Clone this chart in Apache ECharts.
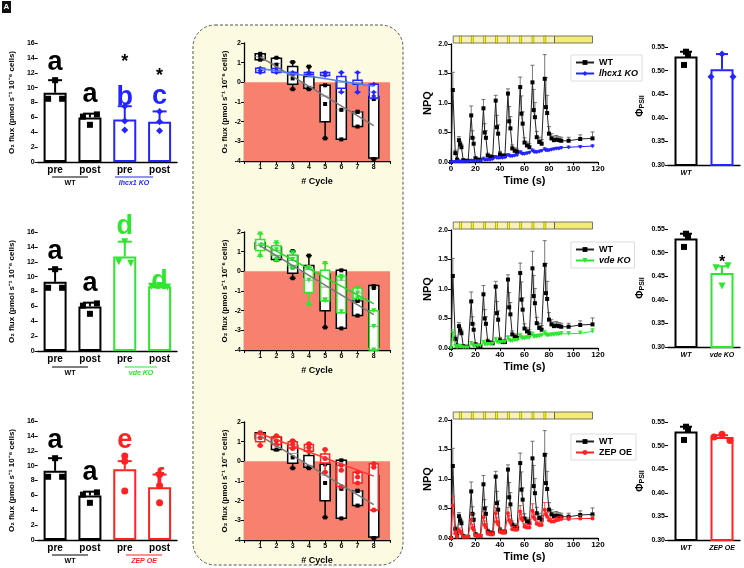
<!DOCTYPE html>
<html lang="en">
<head>
<meta charset="UTF-8" />
<title>O2 flux, NPQ and PhiPSII</title>
<script src="https://cdn.jsdelivr.net/npm/echarts@6/dist/echarts.min.js"></script>
<style>
  html, body { margin: 0; padding: 0; background: #fff; }
  .wrap { position: relative; width: 744px; height: 568px; }
  #chart { position: absolute; left: 0; top: 0; width: 744px; height: 568px; }
  #chartO2 { position: absolute; left: 0; top: 0; width: 190px; height: 568px; }
</style>
</head>
<body>
<div class="wrap">
  <div id="chart"></div>
  <div id="chartO2"></div>
</div>
<script>
  // ---------- data ----------
  var mutants = ["lhcx1 KO", "vde KO", "ZEP OE"];

  // O2 flux bars (pre / post)
  var o2Cats = ["pre", "post", "pre", "post"];
  var wtO2Mean = [9.3, 6.0];
  var wtO2Cap = [11.0, 6.5];
  var wtO2Dots = [[11.0, 8.5, 8.5], [6.1, 6.4, 5.0]];
  var mutO2Mean = [[5.7, 5.4], [12.7, 8.7], [9.5, 7.1]];
  var mutO2Cap = [[7.5, 6.8], [14.7, 8.9], [10.6, 8.8]];
  var mutO2Dots = [
    [[7.5, 5.5, 4.3], [6.8, 5.4, 4.2]],
    [[14.7, 12.0, 11.8], [8.7, 8.8, 8.6]],
    [[11.3, 10.6, 6.6], [8.8, 7.3, 5.0]]
  ];
  // [text, category index, y]
  var o2Letters = [
    [["a", 0, 13.4], ["a", 1, 9.1], ["*", 2, 13.4], ["b", 2, 8.6], ["*", 3, 11.6], ["c", 3, 8.8]],
    [["a", 0, 13.4], ["a", 1, 9.1], ["d", 2, 16.7], ["d", 3, 9.3]],
    [["a", 0, 13.4], ["a", 1, 9.1], ["e", 2, 13.4], ["f", 3, 8.1]]
  ];

  // O2 flux per cycle: [min, Q1, median, Q3, max] for cycles 1..8
  var cycles = [1, 2, 3, 4, 5, 6, 7, 8];
  var wtBox = [
    [1.15, 1.15, 1.3, 1.45, 1.45], [0.55, 0.6, 0.95, 1.23, 1.25], [-0.35, -0.1, 0.4, 0.8, 1.03],
    [-0.35, -0.3, -0.2, 0.3, 0.8], [-2.85, -2.0, -0.7, -0.15, -0.15], [-2.9, -2.9, -1.4, 0.05, 0.05],
    [-2.25, -2.25, -1.5, -1.5, -1.5], [-3.9, -3.85, -0.85, -0.72, -0.72]
  ];
  var wtBoxDots = [[1.45, 1.35, 1.15], [1.25, 0.9, 0.6], [1.03, 0.2, -0.35], [0.8, -0.3, -0.35],
    [-0.15, -1.1, -2.85], [0.05, -1.4, -2.9], [-1.5, -1.5, -2.25], [-0.75, -0.85, -3.9]];
  var mutBox = [
    [[0.5, 0.5, 0.6, 0.72, 0.72], [0.5, 0.5, 0.6, 0.7, 0.7], [0.4, 0.4, 0.45, 0.5, 0.5], [0.4, 0.4, 0.45, 0.5, 0.5],
     [0.35, 0.35, 0.45, 0.5, 0.5], [-0.5, -0.3, 0.0, 0.3, 0.5], [-0.5, -0.1, 0.0, 0.1, 0.5], [-0.8, -0.8, -0.5, -0.1, -0.1]],
    [[0.77, 1.06, 1.32, 1.62, 1.9], [0.55, 0.8, 1.05, 1.3, 1.45], [0.17, 0.3, 0.55, 0.8, 0.95], [-1.7, -1.08, -0.45, 0.1, 0.2],
     [-1.5, -1.5, -0.8, 0.05, 0.4], [-2.1, -2.1, -0.45, -0.25, -0.25], [-1.4, -1.37, -1.1, -0.85, -0.85], [-4.0, -4.0, -2.8, -2.0, -2.0]],
    [[0.8, 1.0, 1.2, 1.4, 1.45], [0.85, 0.85, 1.05, 1.22, 1.3], [0.65, 0.68, 0.85, 1.0, 1.05], [0.5, 0.51, 0.7, 0.86, 0.9],
     [-0.55, -0.08, 0.15, 0.37, 0.6], [-1.3, -1.28, -0.45, -0.2, -0.2], [-1.1, -1.1, -0.8, -0.55, -0.55], [-2.5, -2.47, -0.3, -0.12, -0.12]]
  ];
  var mutBoxDots = [
    [[0.72, 0.6, 0.5], [0.7, 0.6, 0.5], [0.5, 0.45, 0.4], [0.5, 0.45, 0.4], [0.5, 0.45, 0.35], [0.5, 0.5, -0.5], [0.5, -0.5, -0.5], [-0.1, -0.5, -0.7]],
    [[1.9, 1.3, 0.77], [1.45, 1.1, 0.55], [0.95, 0.6, 0.17], [0.2, -0.45, -1.7], [0.4, -1.5, -1.45], [-0.4, -2.05, -0.25], [-0.85, -1.35, -1.1], [-2.0, -2.8, -4.0]],
    [[1.45, 1.2, 0.8], [1.3, 1.05, 0.85], [1.05, 0.85, 0.65], [0.9, 0.7, 0.5], [0.6, 0.15, -0.55], [-0.2, -0.45, -1.28], [-0.55, -0.8, -1.1], [-0.12, -0.3, -2.47]]
  ];
  var wtFit = [[1, 1.3], [8, -2.2]];
  var mutFit = [[[1, 0.7], [8, -0.2]], [[1, 1.47], [8, -1.65]], [[1, 1.4], [8, -0.75]]];

  // NPQ time courses
  var npqT = [0, 1.5, 3.5, 5,
    6.5, 7.5, 8.5, 10, 12, 14,
    16.5, 17.5, 18.5, 20, 22, 24,
    26.5, 27.5, 28.5, 30, 32, 34,
    36.5, 37.5, 38.5, 40, 42, 44,
    46.5, 47.5, 48.5, 50, 52, 54,
    56.5, 57.5, 58.5, 60, 62, 64,
    66.5, 67.5, 68.5, 70, 72, 74,
    76.5, 77.5, 78.5, 80, 82, 84, 86, 88, 90, 96, 105.5, 115.5];
  var npqWT = [0, 1.22, 0.15, 0.04,
    0.37, 0.30, 0.25, 0.03, 0.02, 0.02,
    0.79, 0.41, 0.31, 0.06, 0.04, 0.03,
    0.91, 0.50, 0.41, 0.11, 0.09, 0.08,
    1.04, 0.59, 0.48, 0.13, 0.10, 0.10,
    1.16, 0.69, 0.57, 0.23, 0.19, 0.17,
    1.27, 0.82, 0.65, 0.33, 0.28, 0.25,
    1.35, 0.88, 0.76, 0.42, 0.34, 0.31,
    1.41, 0.93, 0.83, 0.48, 0.40, 0.37, 0.38, 0.37, 0.36, 0.36, 0.39, 0.40];
  var npqWTErr = [0, 0.30, 0.05, 0.02,
    0.06, 0.05, 0.05, 0.02, 0.01, 0.01,
    0.16, 0.12, 0.10, 0.03, 0.02, 0.02,
    0.15, 0.15, 0.12, 0.04, 0.03, 0.03,
    0.09, 0.20, 0.15, 0.05, 0.04, 0.04,
    0.08, 0.25, 0.20, 0.06, 0.05, 0.05,
    0.17, 0.30, 0.20, 0.08, 0.06, 0.06,
    0.29, 0.35, 0.25, 0.10, 0.08, 0.07,
    0.41, 0.50, 0.30, 0.12, 0.08, 0.07, 0.07, 0.06, 0.06, 0.06, 0.07, 0.11];
  var npqMut = [
    [0, 0.01, 0.01, 0.01,
     0.02, 0.01, 0.01, 0.01, 0.01, 0.01,
     0.03, 0.02, 0.02, 0.02, 0.02, 0.02,
     0.06, 0.04, 0.04, 0.04, 0.04, 0.05,
     0.09, 0.07, 0.07, 0.07, 0.07, 0.08,
     0.12, 0.11, 0.10, 0.10, 0.11, 0.12,
     0.17, 0.15, 0.14, 0.14, 0.15, 0.16,
     0.20, 0.18, 0.17, 0.17, 0.18, 0.19,
     0.22, 0.20, 0.20, 0.20, 0.21, 0.22, 0.23, 0.23, 0.24, 0.25, 0.26, 0.27],
    [0, 0.25, 0.03, 0.01,
     0.04, 0.02, 0.02, 0.01, 0.01, 0.01,
     0.08, 0.05, 0.04, 0.04, 0.04, 0.04,
     0.10, 0.06, 0.06, 0.06, 0.06, 0.07,
     0.14, 0.10, 0.09, 0.09, 0.10, 0.10,
     0.17, 0.13, 0.12, 0.12, 0.13, 0.13,
     0.21, 0.17, 0.16, 0.16, 0.17, 0.17,
     0.23, 0.19, 0.19, 0.19, 0.20, 0.21,
     0.25, 0.22, 0.21, 0.21, 0.22, 0.22, 0.23, 0.23, 0.24, 0.24, 0.25, 0.28],
    [0, 0.55, 0.08, 0.02,
     0.13, 0.10, 0.08, 0.02, 0.02, 0.02,
     0.31, 0.17, 0.14, 0.04, 0.03, 0.03,
     0.35, 0.22, 0.18, 0.07, 0.06, 0.06,
     0.42, 0.27, 0.23, 0.10, 0.09, 0.09,
     0.42, 0.30, 0.26, 0.15, 0.14, 0.14,
     0.45, 0.33, 0.30, 0.19, 0.18, 0.18,
     0.46, 0.35, 0.32, 0.24, 0.22, 0.22,
     0.48, 0.40, 0.36, 0.30, 0.28, 0.28, 0.30, 0.31, 0.32, 0.32, 0.33, 0.33]
  ];
  var npqMutErr = [
    [0, 0.01, 0.01, 0.01,
     0.01, 0.01, 0.01, 0.01, 0.01, 0.01,
     0.01, 0.01, 0.01, 0.01, 0.01, 0.01,
     0.02, 0.01, 0.01, 0.01, 0.01, 0.01,
     0.02, 0.02, 0.01, 0.01, 0.01, 0.01,
     0.02, 0.02, 0.02, 0.02, 0.02, 0.02,
     0.02, 0.02, 0.02, 0.02, 0.02, 0.02,
     0.02, 0.02, 0.02, 0.02, 0.02, 0.02,
     0.02, 0.02, 0.02, 0.02, 0.02, 0.02, 0.02, 0.02, 0.02, 0.02, 0.02, 0.02],
    [0, 0.06, 0.02, 0.01,
     0.02, 0.02, 0.02, 0.01, 0.01, 0.01,
     0.03, 0.02, 0.02, 0.02, 0.02, 0.02,
     0.03, 0.03, 0.03, 0.03, 0.03, 0.03,
     0.04, 0.03, 0.03, 0.03, 0.03, 0.03,
     0.04, 0.03, 0.03, 0.03, 0.03, 0.03,
     0.04, 0.04, 0.04, 0.04, 0.04, 0.04,
     0.04, 0.04, 0.04, 0.04, 0.04, 0.04,
     0.05, 0.04, 0.04, 0.04, 0.04, 0.04, 0.04, 0.04, 0.04, 0.04, 0.04, 0.05],
    [0, 0.16, 0.04, 0.02,
     0.04, 0.03, 0.03, 0.02, 0.02, 0.02,
     0.10, 0.06, 0.05, 0.03, 0.03, 0.03,
     0.10, 0.07, 0.06, 0.04, 0.04, 0.04,
     0.10, 0.08, 0.06, 0.04, 0.04, 0.04,
     0.10, 0.08, 0.06, 0.05, 0.05, 0.05,
     0.10, 0.08, 0.06, 0.05, 0.05, 0.05,
     0.12, 0.08, 0.07, 0.05, 0.05, 0.05,
     0.12, 0.08, 0.07, 0.05, 0.05, 0.05, 0.05, 0.05, 0.05, 0.05, 0.05, 0.05]
  ];
  // light protocol bar: [start s, end s, kind] kind 0 = low light, 1 = pulse, 2 = end light
  var lightSegs = [[1.8, 84.5, 0],
    [7, 8.6, 1], [16.6, 18.2, 1], [26.6, 28.2, 1], [36.3, 37.9, 1],
    [46.1, 47.7, 1], [56.1, 57.7, 1], [66.1, 67.7, 1], [75.8, 77.4, 1],
    [84.5, 115.5, 2]];

  // PhiPSII
  var wtPhiMean = 0.530, wtPhiCap = 0.540, wtPhiDots = [0.540, 0.535, 0.512];
  var mutPhiMean = [0.503, 0.457, 0.518];
  var mutPhiCap = [0.535, 0.471, 0.522];
  var mutPhiDots = [[0.535, 0.487, 0.487], [0.472, 0.468, 0.429], [0.524, 0.518, 0.511]];
  var phiStar = [null, 0.478, null];

  // ---------- styles ----------
  var FONT = 'Arial, "Liberation Sans", Helvetica, sans-serif';
  var mutColors = ["#2424ff", "#2ee62e", "#ff2222"];
  var fitColors = ["#4f7cff", "#2fd42f", "#ff3333"];
  var mutSymbols = ["diamond", "triangle", "circle"];
  var mutRotate = [0, 180, 0];
  var o2Top = [43, 232, 421], boxTop = [43, 232, 422], npqTop = [44, 230, 420], phiTop = [47, 229, 422];
  var lightTop = [36, 222, 412];
  var legendTop = [55, 242, 434];
  var groupY = [177, 367, 555];
  var mutLine = [[115, 153], [125, 157], [126, 162]];
  var wtO2Jit = [[0, -7, 7], [-7, 7, 0]];
  var mutO2Jit = [[[0, 0, 0], [0, 0, 0]], [[0, -6, 6], [-8, 0, 8]], [[0, 0, 0], [0, 0, 0]]];
  var wtPhiJit = [0, 2, -2];
  var mutPhiJit = [[0, -11, 11], [6, -6, 0], [0, -8, 8]];
  var o2Name = "O\u2082 flux (pmol s\u207B\u00B9 10\u207B\u2076 cells)";

  function merge(a, b) {
    var o = {}, k;
    for (k in a) o[k] = a[k];
    for (k in b) {
      if (b[k] && typeof b[k] === "object" && !Array.isArray(b[k]) && a[k] && typeof a[k] === "object") o[k] = merge(a[k], b[k]);
      else o[k] = b[k];
    }
    return o;
  }
  function ax(extra) {
    return merge({
      axisLine: { onZero: false, lineStyle: { color: "#000", width: 1.3 } },
      axisTick: { show: true, length: 3, lineStyle: { color: "#000", width: 1 } },
      axisLabel: { color: "#000", fontFamily: FONT, fontWeight: "bold", fontSize: 7, margin: 3 },
      splitLine: { show: false },
      nameTextStyle: { color: "#000", fontFamily: FONT, fontWeight: "bold" }
    }, extra);
  }
  function errRenderer(color, half, lw) {
    return function (params, api) {
      var x = api.value(0);
      var a = api.coord([x, api.value(1)]), b = api.coord([x, api.value(2)]);
      var st = { stroke: color, lineWidth: lw };
      return { type: "group", children: [
        { type: "line", shape: { x1: a[0], y1: a[1], x2: b[0], y2: b[1] }, style: st },
        { type: "line", shape: { x1: b[0] - half, y1: b[1], x2: b[0] + half, y2: b[1] }, style: st }
      ] };
    };
  }
  function boxRenderer(color, halfW, lw) {
    return function (params, api) {
      var x = api.value(0);
      var pMin = api.coord([x, api.value(1)]), pQ1 = api.coord([x, api.value(2)]);
      var pMed = api.coord([x, api.value(3)]), pQ3 = api.coord([x, api.value(4)]);
      var pMax = api.coord([x, api.value(5)]);
      var cx = pMin[0], st = { stroke: color, lineWidth: lw };
      return { type: "group", children: [
        { type: "line", shape: { x1: cx, y1: pMax[1], x2: cx, y2: pQ3[1] }, style: st },
        { type: "line", shape: { x1: cx, y1: pQ1[1], x2: cx, y2: pMin[1] }, style: st },
        { type: "line", shape: { x1: cx - 3, y1: pMax[1], x2: cx + 3, y2: pMax[1] }, style: st },
        { type: "line", shape: { x1: cx - 3, y1: pMin[1], x2: cx + 3, y2: pMin[1] }, style: st },
        { type: "rect", shape: { x: cx - halfW, y: pQ3[1], width: 2 * halfW, height: Math.max(pQ1[1] - pQ3[1], 1) },
          style: { fill: "#fff", stroke: color, lineWidth: lw } },
        { type: "line", shape: { x1: cx - halfW, y1: pMed[1], x2: cx + halfW, y2: pMed[1] }, style: { stroke: "#999", lineWidth: 1 } }
      ] };
    };
  }
  function lightRenderer(params, api) {
    var a = api.coord([api.value(0), 1]), b = api.coord([api.value(1), 0]);
    var k = api.value(2);
    var fills = ["#f8f2b8", "#ffff00", "#f3ec74"];
    return { type: "rect", shape: { x: a[0], y: a[1], width: b[0] - a[0], height: b[1] - a[1] },
      style: { fill: fills[k], stroke: k === 1 ? "#6a6420" : "#555", lineWidth: k === 1 ? 0.5 : 0.8 } };
  }
  function dots(groups, jit, start) {
    var out = [];
    groups.forEach(function (vals, gi) {
      vals.forEach(function (v, j) { out.push({ value: [start + gi, v], symbolOffset: [jit[gi][j], 0] }); });
    });
    return out;
  }
  function zip(xs, ys) { return xs.map(function (x, i) { return [x, ys[i]]; }); }
  function zipErr(xs, ys, es) { return xs.map(function (x, i) { return [x, ys[i], ys[i] + es[i]]; }); }

  // ---------- O2 flux bar panels (own instance, left column) ----------
  var o2Chart = echarts.init(document.getElementById("chartO2"));
  var oGrids = [], oX = [], oY = [], oSeries = [];
  for (var r = 0; r < 3; r++) {
    var col = mutColors[r];
    oGrids.push({ left: 33, top: o2Top[r], width: 144, height: 119 });
    oX.push(ax({ gridIndex: r, type: "category", data: o2Cats, axisTick: { show: false },
      axisLabel: { fontSize: 10, margin: 3 } }));
    oY.push(ax({ gridIndex: r, type: "value", min: 0, max: 16, interval: 2, name: o2Name,
      nameLocation: "middle", nameGap: 17, nameTextStyle: { fontSize: 8 } }));
    var means = [wtO2Mean[0], wtO2Mean[1], mutO2Mean[r][0], mutO2Mean[r][1]];
    oSeries.push({ type: "bar", name: "o2bar" + r, xAxisIndex: r, yAxisIndex: r, barWidth: 23, silent: true,
      data: means.map(function (v, i) {
        return { value: v, itemStyle: { color: "#fff", borderColor: i < 2 ? "#000" : col, borderWidth: 2 } };
      }) });
    oSeries.push({ type: "custom", name: "o2errwt" + r, xAxisIndex: r, yAxisIndex: r, z: 3, silent: true,
      renderItem: errRenderer("#000", 7, 2),
      data: [[0, wtO2Mean[0], wtO2Cap[0]], [1, wtO2Mean[1], wtO2Cap[1]]] });
    oSeries.push({ type: "custom", name: "o2errmut" + r, xAxisIndex: r, yAxisIndex: r, z: 3, silent: true,
      renderItem: errRenderer(col, 7, 2),
      data: [[2, mutO2Mean[r][0], mutO2Cap[r][0]], [3, mutO2Mean[r][1], mutO2Cap[r][1]]] });
    oSeries.push({ type: "scatter", name: "o2dotwt" + r, xAxisIndex: r, yAxisIndex: r, z: 4, silent: true,
      symbol: "rect", symbolSize: 6, itemStyle: { color: "#000", opacity: 1 }, data: dots(wtO2Dots, wtO2Jit, 0) });
    oSeries.push({ type: "scatter", name: "o2dotmut" + r, xAxisIndex: r, yAxisIndex: r, z: 4, silent: true,
      symbol: mutSymbols[r], symbolRotate: mutRotate[r], symbolSize: 7, itemStyle: { color: col, opacity: 1 },
      data: dots(mutO2Dots[r], mutO2Jit[r], 2) });
    oSeries.push({ type: "scatter", name: "o2letters" + r, xAxisIndex: r, yAxisIndex: r, z: 6, silent: true,
      clip: false, symbolSize: 1, itemStyle: { color: "rgba(0,0,0,0)", opacity: 1 },
      data: o2Letters[r].map(function (L) {
        var star = L[0] === "*";
        return { value: [L[1], L[2]], label: { show: true, position: "inside", formatter: L[0], opacity: 1,
          textBorderWidth: 0, color: (star || L[1] < 2) ? "#000" : col, fontSize: star ? 18 : 27,
          fontWeight: "bold", fontFamily: FONT } };
      }) });
  }
  o2Chart.setOption({ animation: false, textStyle: { fontFamily: FONT },
    grid: oGrids, xAxis: oX, yAxis: oY, series: oSeries });

  // ---------- cycle, NPQ and PhiPSII panels ----------
  var chart = echarts.init(document.getElementById("chart"));
  var grids = [], xAxes = [], yAxes = [], series = [], legends = [], graphics = [];

  graphics.push({ type: "rect", z: -10, shape: { x: 193, y: 25, width: 210, height: 540, r: 22 },
    style: { fill: "#fcfae0", stroke: "#555", lineWidth: 1, lineDash: [3, 2] } });
  graphics.push({ type: "rect", shape: { x: 2, y: 1, width: 9, height: 12 }, style: { fill: "#111" } });
  graphics.push({ type: "text", style: { text: "A", x: 6.5, y: 7, fill: "#fff", font: "bold 8px " + FONT,
    textAlign: "center", textVerticalAlign: "middle" } });

  for (var r2 = 0; r2 < 3; r2++) {
    var c = mutColors[r2], g;

    // group labels under the O2 bars
    graphics.push({ type: "line", shape: { x1: 52, y1: groupY[r2], x2: 88, y2: groupY[r2] }, style: { stroke: "#000", lineWidth: 1 } });
    graphics.push({ type: "text", style: { text: "WT", x: 70, y: groupY[r2] + 6, fill: "#000", font: "bold 7px " + FONT,
      textAlign: "center", textVerticalAlign: "middle" } });
    graphics.push({ type: "line", shape: { x1: mutLine[r2][0], y1: groupY[r2], x2: mutLine[r2][1], y2: groupY[r2] }, style: { stroke: c, lineWidth: 1 } });
    graphics.push({ type: "text", style: { text: mutants[r2], x: (mutLine[r2][0] + mutLine[r2][1]) / 2, y: groupY[r2] + 6, fill: c,
      font: "italic bold 7px " + FONT, textAlign: "center", textVerticalAlign: "middle" } });

    // --- O2 flux per cycle ---
    g = r2 * 3;
    grids.push({ left: 244, top: boxTop[r2], width: 146, height: 118 });
    xAxes.push(ax({ gridIndex: g, type: "value", min: 0, max: 9, interval: 1, name: "# Cycle",
      nameLocation: "middle", nameGap: 16, nameTextStyle: { fontSize: 9 },
      axisLabel: { formatter: function (v) { return (v >= 1 && v <= 8) ? v : ""; } } }));
    yAxes.push(ax({ gridIndex: g, type: "value", min: -4, max: 2, interval: 1, name: o2Name,
      nameLocation: "middle", nameGap: 15, nameTextStyle: { fontSize: 8 } }));
    series.push({ type: "custom", name: "boxwt" + r2, xAxisIndex: g, yAxisIndex: g, z: 2, silent: true,
      renderItem: boxRenderer("#000", 5, 1.5), encode: { x: 0, y: [1, 2, 3, 4, 5] },
      data: wtBox.map(function (b, i) { return [cycles[i]].concat(b); }) });
    series.push({ type: "scatter", name: "boxdotwt" + r2, xAxisIndex: g, yAxisIndex: g, z: 3, silent: true,
      symbol: "rect", symbolSize: 4, itemStyle: { color: "#000", opacity: 1 },
      data: [].concat.apply([], wtBoxDots.map(function (vs, i) { return vs.map(function (v) { return [cycles[i], v]; }); })) });
    series.push({ type: "custom", name: "boxmut" + r2, xAxisIndex: g, yAxisIndex: g, z: 4, silent: true,
      renderItem: boxRenderer(c, 4.5, 1.5), encode: { x: 0, y: [1, 2, 3, 4, 5] },
      data: mutBox[r2].map(function (b, i) { return [cycles[i]].concat(b); }) });
    series.push({ type: "scatter", name: "boxdotmut" + r2, xAxisIndex: g, yAxisIndex: g, z: 5, silent: true,
      symbol: mutSymbols[r2], symbolRotate: mutRotate[r2], symbolSize: 5, itemStyle: { color: c, opacity: 1 },
      data: [].concat.apply([], mutBoxDots[r2].map(function (vs, i) { return vs.map(function (v) { return [cycles[i], v]; }); })) });
    series.push({ type: "line", name: "fitwt" + r2, xAxisIndex: g, yAxisIndex: g, z: 6, silent: true,
      data: wtFit, showSymbol: false, lineStyle: { color: "#777", width: 1.5 },
      markArea: { silent: true, itemStyle: { color: "#f8806f" }, label: { show: false },
        data: [[{ coord: [0, 0] }, { coord: [9, -4] }]] } });
    series.push({ type: "line", name: "fitmut" + r2, xAxisIndex: g, yAxisIndex: g, z: 7, silent: true,
      data: mutFit[r2], showSymbol: false, lineStyle: { color: fitColors[r2], width: 1.5 } });

    // --- NPQ ---
    g = r2 * 3 + 1;
    grids.push({ left: 451, top: npqTop[r2], width: 147, height: 118 });
    xAxes.push(ax({ gridIndex: g, type: "value", min: 0, max: 120, interval: 20, name: "Time (s)",
      nameLocation: "middle", nameGap: 13, nameTextStyle: { fontSize: 11 }, axisLabel: { fontSize: 8 } }));
    yAxes.push(ax({ gridIndex: g, type: "value", min: 0, max: 2, interval: 0.5, name: "NPQ",
      nameLocation: "middle", nameGap: 18, nameTextStyle: { fontSize: 11 },
      axisLabel: { formatter: function (v) { return v.toFixed(1); } } }));
    series.push({ type: "custom", name: "npqerrwt" + r2, xAxisIndex: g, yAxisIndex: g, z: 2, silent: true,
      renderItem: errRenderer("#555", 2, 0.8), data: zipErr(npqT, npqWT, npqWTErr) });
    series.push({ type: "line", name: "WT", xAxisIndex: g, yAxisIndex: g, z: 3, silent: true,
      data: zip(npqT, npqWT), symbol: "rect", symbolSize: 4, showSymbol: true,
      lineStyle: { color: "#222", width: 1 }, itemStyle: { color: "#000" } });
    series.push({ type: "custom", name: "npqerrmut" + r2, xAxisIndex: g, yAxisIndex: g, z: 4, silent: true,
      renderItem: errRenderer(c, 2, 0.8), data: zipErr(npqT, npqMut[r2], npqMutErr[r2]) });
    series.push({ type: "line", name: mutants[r2], xAxisIndex: g, yAxisIndex: g, z: 5, silent: true,
      data: zip(npqT, npqMut[r2]), symbol: mutSymbols[r2], symbolRotate: mutRotate[r2], symbolSize: 4, showSymbol: true,
      lineStyle: { color: c, width: 1 }, itemStyle: { color: c } });
    legends.push({ left: 571, top: legendTop[r2], orient: "vertical", itemWidth: 18, itemHeight: 6, itemGap: 2,
      padding: [3, 4], borderColor: "#ddd", borderWidth: 1, selectedMode: false,
      textStyle: { color: "#000", fontFamily: FONT, fontWeight: "bold", fontSize: 9 },
      data: ["WT", { name: mutants[r2], textStyle: { fontStyle: r2 < 2 ? "italic" : "normal" } }] });

    // --- PhiPSII ---
    g = r2 * 3 + 2;
    grids.push({ left: 668, top: phiTop[r2], width: 72, height: 118 });
    xAxes.push(ax({ gridIndex: g, type: "category", data: ["WT", mutants[r2]], axisTick: { show: false },
      axisLabel: { fontSize: 7, fontStyle: "italic", margin: 5 } }));
    yAxes.push(ax({ gridIndex: g, type: "value", min: 0.3, max: 0.55, interval: 0.05, name: "\u03A6{s|PSII}",
      nameLocation: "middle", nameGap: 22, nameTextStyle: { fontSize: 10, rich: { s: { fontSize: 7, fontWeight: "bold", padding: [4, 0, 0, 0] } } },
      axisLabel: { formatter: function (v) { return v.toFixed(2); } } }));
    series.push({ type: "bar", name: "phibar" + r2, xAxisIndex: g, yAxisIndex: g, barWidth: 23, silent: true,
      data: [wtPhiMean, mutPhiMean[r2]].map(function (v, i) {
        return { value: v, itemStyle: { color: "#fff", borderColor: i === 0 ? "#000" : c, borderWidth: 2 } };
      }) });
    series.push({ type: "custom", name: "phierrwt" + r2, xAxisIndex: g, yAxisIndex: g, z: 3, silent: true,
      renderItem: errRenderer("#000", 6, 2), data: [[0, wtPhiMean, wtPhiCap]] });
    series.push({ type: "custom", name: "phierrmut" + r2, xAxisIndex: g, yAxisIndex: g, z: 3, silent: true,
      renderItem: errRenderer(c, 6, 2), data: [[1, mutPhiMean[r2], mutPhiCap[r2]]] });
    series.push({ type: "scatter", name: "phidotwt" + r2, xAxisIndex: g, yAxisIndex: g, z: 4, silent: true,
      symbol: "rect", symbolSize: 6, itemStyle: { color: "#000", opacity: 1 }, data: dots([wtPhiDots], [wtPhiJit], 0) });
    series.push({ type: "scatter", name: "phidotmut" + r2, xAxisIndex: g, yAxisIndex: g, z: 4, silent: true,
      symbol: mutSymbols[r2], symbolRotate: mutRotate[r2], symbolSize: 7, itemStyle: { color: c, opacity: 1 },
      data: dots([mutPhiDots[r2]], [mutPhiJit[r2]], 1) });
    if (phiStar[r2] !== null) {
      series.push({ type: "scatter", name: "phistar" + r2, xAxisIndex: g, yAxisIndex: g, z: 6, silent: true,
        clip: false, symbolSize: 1, itemStyle: { color: "rgba(0,0,0,0)", opacity: 1 },
        data: [{ value: [1, phiStar[r2]], label: { show: true, position: "inside", formatter: "*", color: "#000",
          opacity: 1, textBorderWidth: 0, fontSize: 16, fontWeight: "bold", fontFamily: FONT } }] });
    }
  }

  // light protocol bars above the NPQ panels
  for (var k = 0; k < 3; k++) {
    var gl = 9 + k;
    grids.push({ left: 451, top: lightTop[k], width: 147, height: 7 });
    xAxes.push({ gridIndex: gl, type: "value", min: 0, max: 120, show: false });
    yAxes.push({ gridIndex: gl, type: "value", min: 0, max: 1, show: false });
    series.push({ type: "custom", name: "light" + k, xAxisIndex: gl, yAxisIndex: gl, silent: true,
      renderItem: lightRenderer, data: lightSegs });
  }

  chart.setOption({
    animation: false,
    textStyle: { fontFamily: FONT },
    grid: grids,
    xAxis: xAxes,
    yAxis: yAxes,
    legend: legends,
    graphic: { elements: graphics },
    series: series
  });
</script>
</body>
</html>
